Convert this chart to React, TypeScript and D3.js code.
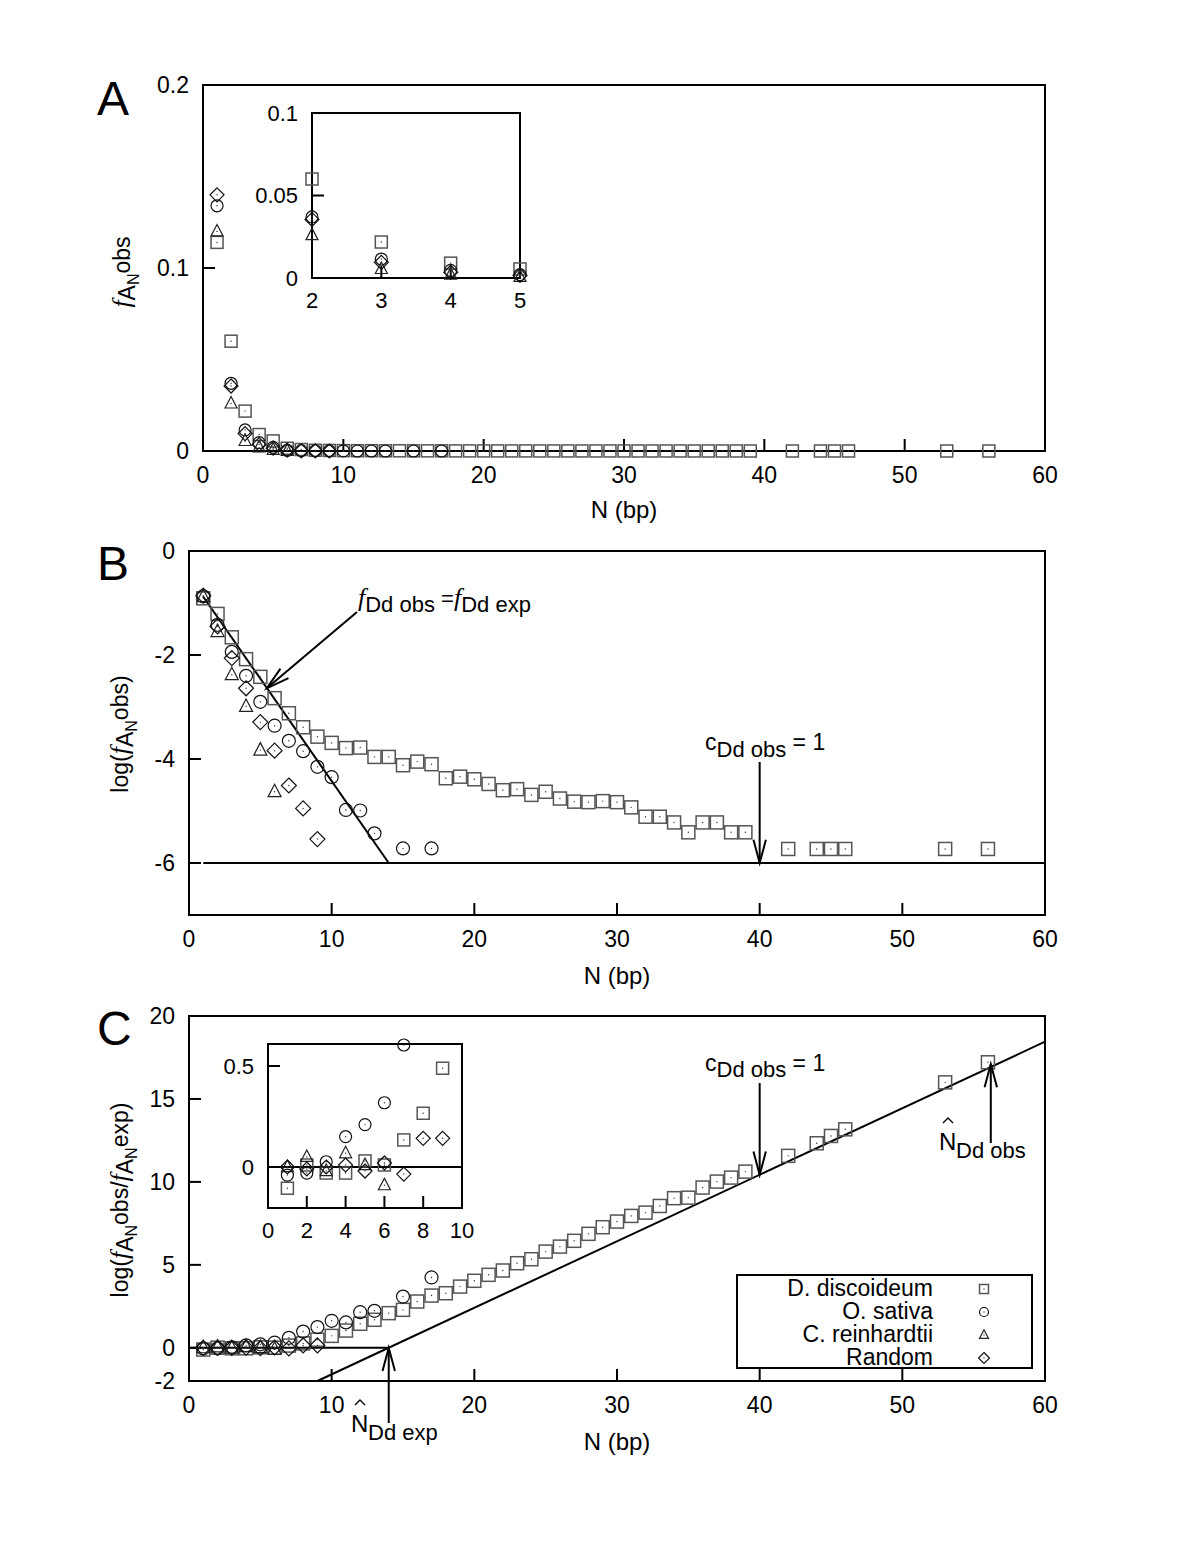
import React from 'react';
import * as d3 from 'd3';

// ---------------- data ----------------
const N_DD = [1,2,3,4,5,6,7,8,9,10,11,12,13,14,15,16,17,18,19,20,21,22,23,24,25,26,27,28,29,30,31,32,33,34,35,36,37,38,39,42,44,45,46,53,56];
const N_OS = [1,2,3,4,5,6,7,8,9,10,11,12,13,15,17];
const N_CR = [1,2,3,4,5,6];
const N_RD = [1,2,3,4,5,6,7,8,9];

// Panel A: f_obs
const A_DD = [0.114,0.060,0.0218,0.009,0.0055,0.0015,0.0008,0.0004,0.0003,0.0002,0.00016,0.00017,0.00011,0.00011,0.00008,0.00009,0.00008,0.00004,0.00005,0.00004,0.00003,0.00003,0.00003,0.00002,0.00002,0.00002,0.00002,0.00002,0.00002,0.00002,0.00001,0.00001,0.00001,0.00001,0.000004,0.00001,0.00001,0.000004,0.000004,0.000002,0.000002,0.000002,0.000002,0.000002,0.000002];
const A_OS = [0.134,0.037,0.0115,0.0046,0.002,0.0004,0.0002,0.00014,0.00007,0.00004,0.00001,0.00001,0.000004,0.000002,0.000002];
const A_CR = [0.120,0.026,0.0055,0.002,0.0007,0.0001];
const A_RD = [0.140,0.0355,0.0095,0.0035,0.0015,0.0005,0.0001,0.00005,0.00001];

// Panel B: log(f_obs)
const B_DD = [-0.91,-1.21,-1.66,-2.08,-2.42,-2.83,-3.12,-3.39,-3.57,-3.69,-3.79,-3.78,-3.96,-3.96,-4.12,-4.05,-4.10,-4.37,-4.34,-4.39,-4.48,-4.60,-4.58,-4.69,-4.63,-4.76,-4.82,-4.83,-4.81,-4.83,-4.93,-5.11,-5.11,-5.22,-5.41,-5.22,-5.22,-5.41,-5.41,-5.73,-5.73,-5.73,-5.73,-5.73,-5.73];
const B_OS = [-0.87,-1.42,-1.94,-2.40,-2.90,-3.36,-3.65,-3.85,-4.15,-4.35,-4.98,-4.99,-5.43,-5.72,-5.72];
const B_CR = [-0.88,-1.55,-2.38,-2.99,-3.83,-4.63];
const B_RD = [-0.86,-1.45,-2.06,-2.64,-3.29,-3.84,-4.51,-4.95,-5.54];
const B_LINE_N = [1, 14];
const B_LINE_V = [-0.88, -6];
const B_FLOOR_N = [1, 60];
const B_FLOOR_V = [-6, -6];

// Panel C: log(f_obs / f_exp)
const C_DD = [-0.105,0.01,-0.03,-0.03,0.03,0.01,0.134,0.266,0.489,0.72,1.04,1.45,1.69,2.09,2.29,2.79,3.15,3.29,3.69,4.04,4.40,4.66,5.10,5.34,5.80,6.10,6.45,6.87,7.27,7.61,7.95,8.15,8.55,9.02,9.05,9.66,10.02,10.26,10.62,11.57,12.33,12.77,13.17,16.0,17.21];
const C_OS = [-0.04,-0.03,0.026,0.15,0.21,0.318,0.604,0.98,1.25,1.63,1.53,2.15,2.23,3.09,4.24];
const C_CR = [0.0,0.05,-0.02,0.068,0.01,-0.09];
const C_RD = [0.0,-0.01,0.0,0.01,-0.02,0.02,-0.035,0.142,0.142];
const C_LINE_N = [9, 60];
const C_LINE_V = [-2.0, 18.45];
const C_ZERO_N = [0, 14];
const C_ZERO_V = [0, 0];

const X_TICKS = [0, 10, 20, 30, 40, 50, 60];
const A_Y_TICKS = [0, 0.1, 0.2];
const B_Y_TICKS = [0, -2, -4, -6];
const C_Y_TICKS = [-2, 0, 5, 10, 15, 20];
const IA_X_TICKS = [2, 3, 4, 5];
const IA_Y_TICKS = [0, 0.05, 0.1];
const IC_X_TICKS = [0, 2, 4, 6, 8, 10];
const IC_Y_TICKS = [0, 0.5];

const SPECIES = ['D. discoideum', 'O. sativa', 'C. reinhardtii', 'Random'];
const SHAPES = ['square', 'circle', 'triangle', 'diamond'];

// ---------------- helpers ----------------
const FONT = 'Liberation Sans, Arial, Helvetica, sans-serif';
const SERIF = 'Liberation Serif, Times New Roman, serif';
const FS = 23;

function Marker({ type, x, y, s, dot = true }: any) {
  const h = s / 2;
  let shape: any = null;
  if (type === 'square') {
    shape = <rect x={x - h} y={y - h} width={s} height={s} fill="none" stroke="#555" strokeWidth={1.5} />;
  } else if (type === 'circle') {
    shape = <circle cx={x} cy={y} r={h} fill="none" stroke="#111" strokeWidth={1.2} />;
  } else if (type === 'triangle') {
    const pts = [[x, y - s * 0.58], [x - h, y + s * 0.38], [x + h, y + s * 0.38]];
    shape = <polygon points={pts.map(p => p.join(',')).join(' ')} fill="none" stroke="#222" strokeWidth={1.2} />;
  } else {
    const pts = [[x, y - h - 1], [x + h + 1, y], [x, y + h + 1], [x - h - 1, y]];
    shape = <polygon points={pts.map(p => p.join(',')).join(' ')} fill="none" stroke="#111" strokeWidth={1.2} />;
  }
  return (
    <g>
      {shape}
      {dot && <circle cx={x} cy={y} r={0.7} fill="#333" />}
    </g>
  );
}

function Series({ ns, vs, type, xs, ys, s, filter }: any) {
  return (
    <g>
      {ns.map((n: number, i: number) => {
        if (filter && !filter(n, vs[i])) return null;
        return <Marker key={i} type={type} x={xs(n)} y={ys(vs[i])} s={s} />;
      })}
    </g>
  );
}

function Arrow({ x1, y1, x2, y2, len = 22, ang = 16 }: any) {
  const a = Math.atan2(y2 - y1, x2 - x1);
  const r = (ang * Math.PI) / 180;
  const p1 = [x2 - len * Math.cos(a - r), y2 - len * Math.sin(a - r)];
  const p2 = [x2 - len * Math.cos(a + r), y2 - len * Math.sin(a + r)];
  return (
    <g stroke="#000" strokeWidth={2} fill="none">
      <line x1={x1} y1={y1} x2={x2} y2={y2} />
      <polyline points={`${p1[0]},${p1[1]} ${x2},${y2} ${p2[0]},${p2[1]}`} />
    </g>
  );
}

function Hat({ cx, y }: any) {
  return <polyline points={`${cx - 5},${y + 5} ${cx},${y} ${cx + 5},${y + 5}`} fill="none" stroke="#000" strokeWidth={1.3} />;
}

function Frame({ xs, ys, xTicks, yTicks, fmtX, fmtY, tickLen = 12, fs = FS, xLabelOff = 32, yLabelOff = 14 }: any) {
  const [x0, x1] = xs.range();
  const [y0, y1] = ys.range(); // y0 bottom, y1 top
  return (
    <g>
      <rect x={x0} y={y1} width={x1 - x0} height={y0 - y1} fill="none" stroke="#000" strokeWidth={2} />
      {xTicks.map((t: number, i: number) => (
        <g key={'x' + i}>
          <line x1={xs(t)} x2={xs(t)} y1={y0} y2={y0 - tickLen} stroke="#000" strokeWidth={2} />
          <text x={xs(t)} y={y0 + xLabelOff} textAnchor="middle" fontSize={fs} fontFamily={FONT}>{fmtX(t)}</text>
        </g>
      ))}
      {yTicks.map((t: number, i: number) => (
        <g key={'y' + i}>
          <line x1={x0} x2={x0 + tickLen} y1={ys(t)} y2={ys(t)} stroke="#000" strokeWidth={2} />
          <text x={x0 - yLabelOff} y={ys(t) + fs * 0.36} textAnchor="end" fontSize={fs} fontFamily={FONT}>{fmtY(t)}</text>
        </g>
      ))}
    </g>
  );
}

function AllSeries({ xs, ys, s, data, filter }: any) {
  const ns = [N_DD, N_OS, N_CR, N_RD];
  return (
    <g>
      {data.map((vs: number[], k: number) => (
        <Series key={k} ns={ns[k]} vs={vs} type={SHAPES[k]} xs={xs} ys={ys} s={s} filter={filter} />
      ))}
    </g>
  );
}

export default function App() {
  const xA = d3.scaleLinear().domain([0, 60]).range([203, 1045]);
  const yA = d3.scaleLinear().domain([0, 0.2]).range([451, 85]);
  const xB = d3.scaleLinear().domain([0, 60]).range([189, 1045]);
  const yB = d3.scaleLinear().domain([-7, 0]).range([915, 551]);
  const xC = d3.scaleLinear().domain([0, 60]).range([189, 1045]);
  const yC = d3.scaleLinear().domain([-2, 20]).range([1381, 1016]);
  const xIA = d3.scaleLinear().domain([2, 5]).range([312, 520]);
  const yIA = d3.scaleLinear().domain([0, 0.1]).range([278, 113]);
  const xIC = d3.scaleLinear().domain([0, 10]).range([268, 462]);
  const yIC = d3.scaleLinear().domain([-0.2, 0.6]).range([1207.4, 1045.8]);

  const lineB = d3.line<number>().x((d, i) => xB(B_LINE_N[i])).y(d => yB(d));
  const floorB = d3.line<number>().x((d, i) => xB(B_FLOOR_N[i])).y(d => yB(d));
  const lineC = d3.line<number>().x((d, i) => xC(C_LINE_N[i])).y(d => yC(d));
  const zeroC = d3.line<number>().x((d, i) => xC(C_ZERO_N[i])).y(d => yC(d));

  const fmt = (d: number) => String(d);

  return (
    <svg width={1198} height={1551} style={{ position: 'absolute', left: 0, top: 0, background: '#fff' }} fontFamily={FONT}>
      <rect x={0} y={0} width={1198} height={1551} fill="#fff" />

      {/* ============ Panel A ============ */}
      <text x={97} y={115} fontSize={48} fontFamily={FONT}>A</text>
      <Frame xs={xA} ys={yA} xTicks={X_TICKS} yTicks={A_Y_TICKS} fmtX={fmt} fmtY={fmt} />
      <text x={624} y={518} textAnchor="middle" fontSize={24}>N (bp)</text>
      <text transform="translate(130,272) rotate(-90)" textAnchor="middle" fontSize={23}>
        <tspan fontFamily={SERIF} fontStyle="italic" fontSize={26}>f</tspan>
        <tspan dy={5}>A</tspan>
        <tspan dy={4} fontSize={16}>N</tspan>
        <tspan dy={-9}>obs</tspan>
      </text>
      <AllSeries xs={xA} ys={yA} s={12} data={[A_DD, A_OS, A_CR, A_RD]} />

      {/* inset A */}
      <rect x={312} y={113} width={208} height={165} fill="#fff" stroke="none" />
      <Frame xs={xIA} ys={yIA} xTicks={IA_X_TICKS} yTicks={IA_Y_TICKS} fmtX={fmt} fmtY={fmt} xLabelOff={30} yLabelOff={14} tickLen={12} fs={22} />
      <AllSeries xs={xIA} ys={yIA} s={12} data={[A_DD, A_OS, A_CR, A_RD]} filter={(n: number) => n >= 2 && n <= 5} />

      {/* ============ Panel B ============ */}
      <text x={97} y={580} fontSize={48} fontFamily={FONT}>B</text>
      <Frame xs={xB} ys={yB} xTicks={X_TICKS} yTicks={B_Y_TICKS} fmtX={fmt} fmtY={fmt} />
      <text x={617} y={984} textAnchor="middle" fontSize={24}>N (bp)</text>
      <text transform="translate(128,734) rotate(-90)" textAnchor="middle" fontSize={23}>
        <tspan>log(</tspan>
        <tspan fontFamily={SERIF} fontStyle="italic" fontSize={26}>f</tspan>
        <tspan dy={5}>A</tspan>
        <tspan dy={4} fontSize={16}>N</tspan>
        <tspan dy={-9}>obs)</tspan>
      </text>
      <path d={floorB(B_FLOOR_V) || ''} stroke="#000" strokeWidth={2} fill="none" />
      <path d={lineB(B_LINE_V) || ''} stroke="#000" strokeWidth={2} fill="none" />
      <AllSeries xs={xB} ys={yB} s={13} data={[B_DD, B_OS, B_CR, B_RD]} />
      {/* annotation f_Dd obs = f_Dd exp */}
      <Arrow x1={357} y1={612} x2={xB(5.45)} y2={yB(-2.64)} len={24} ang={15} />
      <text x={358} y={606} fontSize={22}>
        <tspan fontFamily={SERIF} fontStyle="italic" fontSize={26}>f</tspan>
        <tspan dy={6}>Dd obs</tspan>
        <tspan dy={-6}> =</tspan>
        <tspan fontFamily={SERIF} fontStyle="italic" fontSize={26}>f</tspan>
        <tspan dy={6}>Dd exp</tspan>
      </text>
      {/* annotation c_Dd obs = 1 */}
      <text x={705} y={750} fontSize={23}>
        <tspan>c</tspan>
        <tspan dy={7} fontSize={22}>Dd obs</tspan>
        <tspan dy={-7}> = 1</tspan>
      </text>
      <Arrow x1={xB(40)} y1={762} x2={xB(40)} y2={yB(-6)} len={24} ang={15} />

      {/* ============ Panel C ============ */}
      <text x={97} y={1045} fontSize={48} fontFamily={FONT}>C</text>
      <Frame xs={xC} ys={yC} xTicks={X_TICKS} yTicks={C_Y_TICKS} fmtX={fmt} fmtY={fmt} />
      <text x={617} y={1450} textAnchor="middle" fontSize={24}>N (bp)</text>
      <text transform="translate(128,1200) rotate(-90)" textAnchor="middle" fontSize={23}>
        <tspan>log(</tspan>
        <tspan fontFamily={SERIF} fontStyle="italic" fontSize={26}>f</tspan>
        <tspan dy={5}>A</tspan>
        <tspan dy={4} fontSize={16}>N</tspan>
        <tspan dy={-9}>obs/</tspan>
        <tspan fontFamily={SERIF} fontStyle="italic" fontSize={26}>f</tspan>
        <tspan dy={5}>A</tspan>
        <tspan dy={4} fontSize={16}>N</tspan>
        <tspan dy={-9}>exp)</tspan>
      </text>
      <path d={zeroC(C_ZERO_V) || ''} stroke="#000" strokeWidth={2} fill="none" />
      <path d={lineC(C_LINE_V) || ''} stroke="#000" strokeWidth={2} fill="none" />
      <AllSeries xs={xC} ys={yC} s={13} data={[C_DD, C_OS, C_CR, C_RD]} />

      {/* annotations C */}
      <text x={705} y={1071} fontSize={23}>
        <tspan>c</tspan>
        <tspan dy={6} fontSize={22}>Dd obs</tspan>
        <tspan dy={-6}> = 1</tspan>
      </text>
      <Arrow x1={xC(40)} y1={1083} x2={xC(40)} y2={yC(10.43)} len={24} ang={15} />

      <Arrow x1={xC(56.2)} y1={1143} x2={xC(56.2)} y2={yC(17.1)} len={24} ang={15} />
      <text x={939} y={1150} fontSize={24}>N</text>
      <Hat cx={948} y={1118} />
      <text x={956} y={1158} fontSize={22}>Dd obs</text>

      <Arrow x1={xC(14)} y1={1423} x2={xC(14)} y2={yC(0)} len={24} ang={15} />
      <text x={351} y={1432} fontSize={24}>N</text>
      <Hat cx={360} y={1400} />
      <text x={368} y={1440} fontSize={22}>Dd exp</text>

      {/* inset C */}
      <rect x={268} y={1044} width={194} height={164} fill="#fff" stroke="none" />
      <Frame xs={xIC} ys={d3.scaleLinear().domain([-0.2, 0.6]).range([1208, 1044])} xTicks={[]} yTicks={[]} fmtX={fmt} fmtY={fmt} />
      {IC_X_TICKS.map((t, i) => (
        <g key={'icx' + i}>
          <line x1={xIC(t)} x2={xIC(t)} y1={1208} y2={1196} stroke="#000" strokeWidth={2} />
          <text x={xIC(t)} y={1238} textAnchor="middle" fontSize={22}>{t}</text>
        </g>
      ))}
      {IC_Y_TICKS.map((t, i) => (
        <g key={'icy' + i}>
          <line x1={268} x2={280} y1={yIC(t)} y2={yIC(t)} stroke="#000" strokeWidth={2} />
          <text x={254} y={yIC(t) + 8} textAnchor="end" fontSize={22}>{t}</text>
        </g>
      ))}
      <line x1={268} x2={462} y1={yIC(0)} y2={yIC(0)} stroke="#000" strokeWidth={2} />
      <AllSeries xs={xIC} ys={yIC} s={12} data={[C_DD, C_OS, C_CR, C_RD]} filter={(n: number, v: number) => n <= 10 && v <= 0.62} />

      {/* legend */}
      <rect x={737} y={1275} width={295} height={93} fill="#fff" stroke="#000" strokeWidth={2} />
      {SPECIES.map((s, i) => (
        <g key={'lg' + i}>
          <text x={933} y={1296 + i * 23} textAnchor="end" fontSize={23}>{s}</text>
          <Marker type={SHAPES[i]} x={984} y={1289 + i * 23} s={9} />
        </g>
      ))}
    </svg>
  );
}
